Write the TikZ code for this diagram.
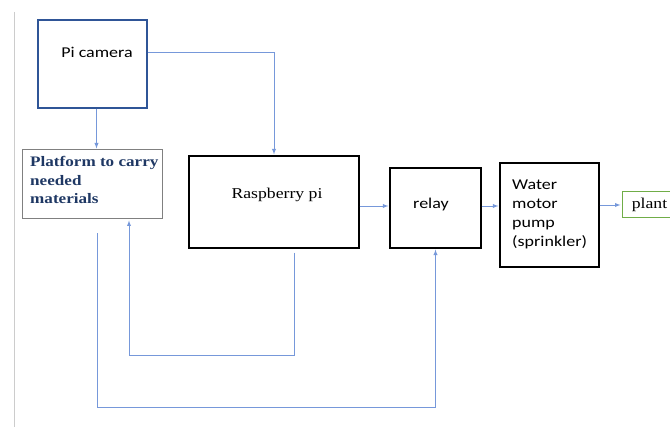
\documentclass[tikz,border=0pt]{standalone}
\usepackage{fontspec}
\setmainfont[FakeStretch=1.18]{Liberation Serif}
\newfontfamily\calibri[FakeStretch=1.2]{Carlito}
\usetikzlibrary{arrows}

\definecolor{linkblue}{RGB}{118,152,218}
\definecolor{camblue}{RGB}{47,85,151}
\definecolor{navytext}{RGB}{31,56,100}
\definecolor{plantgreen}{RGB}{112,173,71}

\begin{document}
\begin{tikzpicture}[x=1pt, y=-1pt, >=latex,
  box/.style={draw, line width=1.2pt, inner sep=0pt},
  link/.style={linkblue, line width=0.9pt, ->, shorten >=1pt},
  sans/.style={font=\calibri\fontsize{15}{19}\selectfont},
  serif/.style={font=\fontsize{15}{18}\selectfont}]

\useasboundingbox (0,0) rectangle (670,427);

\draw[gray!40, line width=0.8pt] (14,12)--(14,427);

% boxes
\node[box, draw=camblue, minimum width=109pt, minimum height=88pt] (cam) at (92.5,64) {};
\node[sans] (camtxt) at (97,52) {Pi camera};

\node[box, draw=gray, line width=1pt, minimum width=140pt, minimum height=69pt] (plat) at (92,184.5) {};
\node[anchor=north west, align=left, text=navytext, inner sep=0pt,
      font=\bfseries\fontsize{14.5}{18.5}\selectfont] (plattxt) at (30,156.5)
      {Platform to carry\\needed\\materials};

\node[box, minimum width=170pt, minimum height=92pt] (rpi) at (274,202) {};
\node[serif] (rpitxt) at (277,195) {Raspberry pi};

\node[box, minimum width=91pt, minimum height=80pt] (relay) at (435.5,208) {};
\node[sans] (relaytxt) at (431,205) {relay};

\node[box, minimum width=99pt, minimum height=104pt] (pump) at (549.5,215) {};
\node[sans, anchor=north west, align=left, inner sep=0pt] (pumptxt) at (512,179.5)
      {Water\\motor\\pump\\(sprinkler)};

\node[box, draw=plantgreen, line width=1pt, minimum width=56pt, minimum height=26pt] (plant) at (650,205) {};
\node[serif] (planttxt) at (649.5,205) {plant};

% connectors
\draw[link] ([xshift=4pt]cam.south) -- ([xshift=4pt]cam.south |- plat.north);
\draw[link] ([yshift=12pt]cam.east) -| (rpi.north);
\draw[link] ([yshift=-4pt]rpi.east) -- ([yshift=-4pt]rpi.east -| relay.west);
\draw[link] ([yshift=2pt]relay.east) -- ([yshift=2pt]relay.east -| pump.west);
\draw[link] (plant.west -| pump.east) -- (plant.west);

\coordinate (fbA) at ([xshift=20pt, yshift=-4pt]rpi.south);
\coordinate (fbB) at ([xshift=5pt, yshift=-14pt]plat.south);
\coordinate (fbC) at ([xshift=37pt]plat.south);
\draw[link] (fbA) |- ([yshift=-136pt]fbC) -- (fbC);
\draw[link] (fbB) |- ([yshift=-159pt]relay.south) -- (relay.south);

\end{tikzpicture}
\end{document}
